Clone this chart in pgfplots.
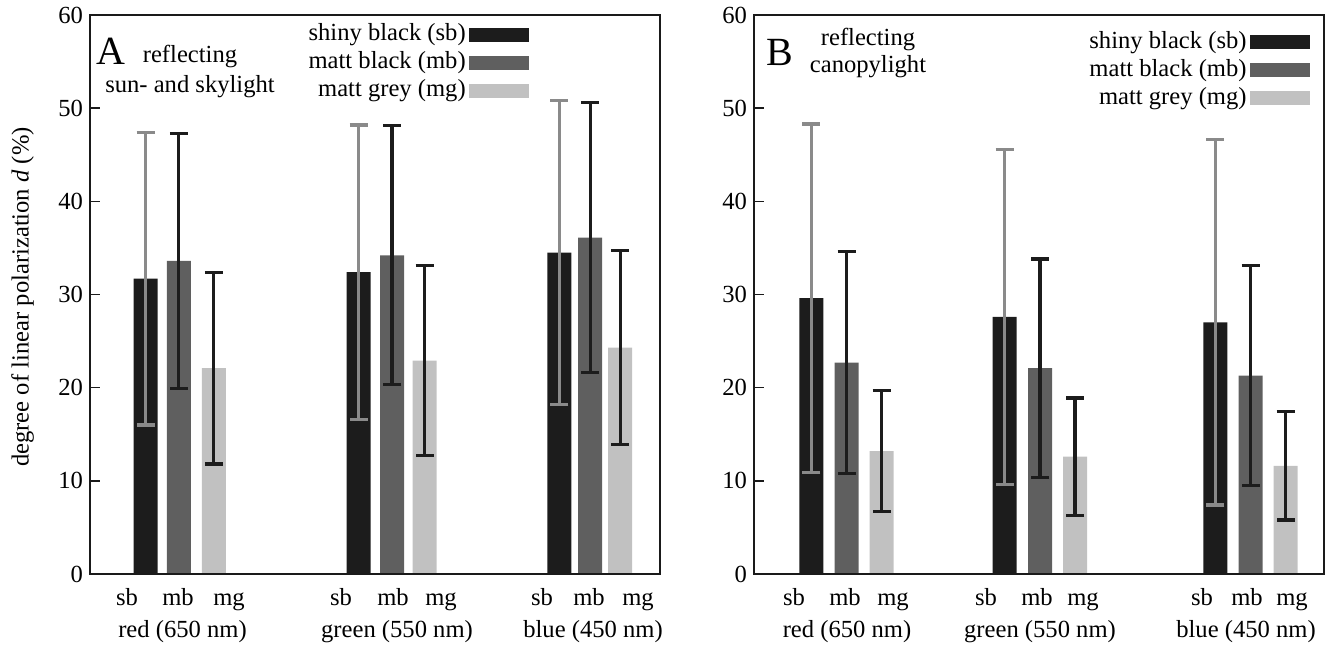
\documentclass[border=0pt]{standalone}
\usepackage{fontspec}
\setmainfont{Liberation Serif}
\usepackage{pgfplots}
\pgfplotsset{compat=1.18}
\definecolor{sbcol}{HTML}{1C1C1C}
\definecolor{mbcol}{HTML}{5F5F5F}
\definecolor{mgcol}{HTML}{C1C1C1}
\definecolor{errgrey}{HTML}{8A8A8A}
\definecolor{axcol}{HTML}{1A1A1A}

\newcommand\txtfont{\fontsize{12.3}{14}\selectfont}

\pgfplotsset{
  panel/.style={
    scale only axis, width=285pt, height=279.5pt,
    anchor=south west,
    xmin=0, xmax=570, ymin=0, ymax=60,
    ytick={0,10,...,60}, xtick=\empty,
    ytick pos=left, tick align=inside, major tick length=5pt,
    tick style={axcol, line width=0.8pt},
    axis line style={axcol, line width=1.1pt},
    /pgf/number format/assume math mode=true,
    ticklabel style={font=\txtfont},
    ybar, bar width=12pt, bar shift=0pt,
    clip=false, axis on top,
    legend style={draw=none, fill=none, inner sep=0pt, anchor=north east,
      font=\txtfont, column sep=0.5pt,
      nodes={inner sep=1pt, text height=9pt, text depth=3pt}},
    legend plot pos=right, legend cell align=right,
    error bars/y dir=both, error bars/y explicit,
  },
  err/.style={error bars/error bar style={#1, line width=1.6pt},
    error bars/error mark options={rotate=90, #1, line width=1.6pt, mark size=4.5pt}},
}
\tikzset{
  sub/.style={anchor=base, yshift=-16pt, font=\txtfont},
  grp/.style={anchor=base, yshift=-32pt, font=\txtfont},
}

\begin{document}
\begin{tikzpicture}
\path[use as bounding box] (0pt,0pt) rectangle (667pt,323.5pt);

% panel A: sun- and skylight
\begin{axis}[panel, at={(45pt,36.5pt)}, legend style={at={(0.770,0.991)}}]
\addplot[fill=sbcol, draw=none, err=errgrey, forget plot] coordinates {
  (55.5,31.7) +- (0,15.7) (268.7,32.4) +- (0,15.8) (469.3,34.5) +- (0,16.3)};
\addplot[fill=mbcol, draw=none, err=sbcol, forget plot] coordinates {
  (88.8,33.6) +- (0,13.7) (302,34.2) +- (0,13.9) (500.2,36.1) +- (0,14.5)};
\addplot[fill=mgcol, draw=none, err=sbcol, forget plot] coordinates {
  (123.8,22.1) +- (0,10.3) (334.5,22.9) +- (0,10.2) (530.2,24.3) +- (0,10.4)};
\addlegendimage{legend image code/.code={\fill[sbcol] (0pt,-3.25pt) rectangle (29.5pt,3.25pt);}}
\addlegendentry{shiny black (sb)}
\addlegendimage{legend image code/.code={\fill[mbcol] (0pt,-3.25pt) rectangle (29.5pt,3.25pt);}}
\addlegendentry{matt black (mb)}
\addlegendimage{legend image code/.code={\fill[mgcol] (0pt,-3.25pt) rectangle (29.5pt,3.25pt);}}
\addlegendentry{matt grey (mg)}
\node[sub] at (axis cs:37,0) {sb};
\node[sub] at (axis cs:88,0) {mb};
\node[sub] at (axis cs:139,0) {mg};
\node[sub] at (axis cs:251,0) {sb};
\node[sub] at (axis cs:303,0) {mb};
\node[sub] at (axis cs:351,0) {mg};
\node[sub] at (axis cs:452,0) {sb};
\node[sub] at (axis cs:499,0) {mb};
\node[sub] at (axis cs:548,0) {mg};
\node[grp] at (axis cs:92.5,0) {red (650 nm)};
\node[grp] at (axis cs:307,0) {green (550 nm)};
\node[grp] at (axis cs:503,0) {blue (450 nm)};
\end{axis}

% panel B: canopylight
\begin{axis}[panel, at={(377pt,36.5pt)}, legend style={at={(0.975,0.977)}}]
\addplot[fill=sbcol, draw=none, err=errgrey, forget plot] coordinates {
  (57.3,29.6) +- (0,18.7) (250.7,27.6) +- (0,18.0) (461.3,27.0) +- (0,19.6)};
\addplot[fill=mbcol, draw=none, err=sbcol, forget plot] coordinates {
  (92.7,22.7) +- (0,11.9) (286,22.1) +- (0,11.7) (496.5,21.3) +- (0,11.8)};
\addplot[fill=mgcol, draw=none, err=sbcol, forget plot] coordinates {
  (127.7,13.2) +- (0,6.5) (321,12.6) +- (0,6.3) (531.5,11.6) +- (0,5.8)};
\addlegendimage{legend image code/.code={\fill[sbcol] (0pt,-3.25pt) rectangle (29.5pt,3.25pt);}}
\addlegendentry{shiny black (sb)}
\addlegendimage{legend image code/.code={\fill[mbcol] (0pt,-3.25pt) rectangle (29.5pt,3.25pt);}}
\addlegendentry{matt black (mb)}
\addlegendimage{legend image code/.code={\fill[mgcol] (0pt,-3.25pt) rectangle (29.5pt,3.25pt);}}
\addlegendentry{matt grey (mg)}
\node[sub] at (axis cs:40,0) {sb};
\node[sub] at (axis cs:91,0) {mb};
\node[sub] at (axis cs:139,0) {mg};
\node[sub] at (axis cs:232,0) {sb};
\node[sub] at (axis cs:283,0) {mb};
\node[sub] at (axis cs:329,0) {mg};
\node[sub] at (axis cs:448,0) {sb};
\node[sub] at (axis cs:493,0) {mb};
\node[sub] at (axis cs:538,0) {mg};
\node[grp] at (axis cs:93,0) {red (650 nm)};
\node[grp] at (axis cs:286,0) {green (550 nm)};
\node[grp] at (axis cs:492,0) {blue (450 nm)};
\end{axis}

\node[rotate=90, font=\txtfont] at (11.25pt,175pt) {degree of linear polarization \textit{d} (\%)};

\node[anchor=base, font=\fontsize{20}{22}\selectfont, inner sep=0pt] at (55.5pt,291pt) {A};
\node[anchor=base, font=\txtfont, inner sep=0pt] at (95pt,292pt) {reflecting};
\node[anchor=base, font=\txtfont, inner sep=0pt] at (95pt,277pt) {sun- and skylight};
\node[anchor=base, font=\fontsize{20}{22}\selectfont, inner sep=0pt] at (390pt,290.5pt) {B};
\node[anchor=base, font=\txtfont, inner sep=0pt] at (434pt,300.5pt) {reflecting};
\node[anchor=base, font=\txtfont, inner sep=0pt] at (434pt,287pt) {canopylight};
\end{tikzpicture}
\end{document}
